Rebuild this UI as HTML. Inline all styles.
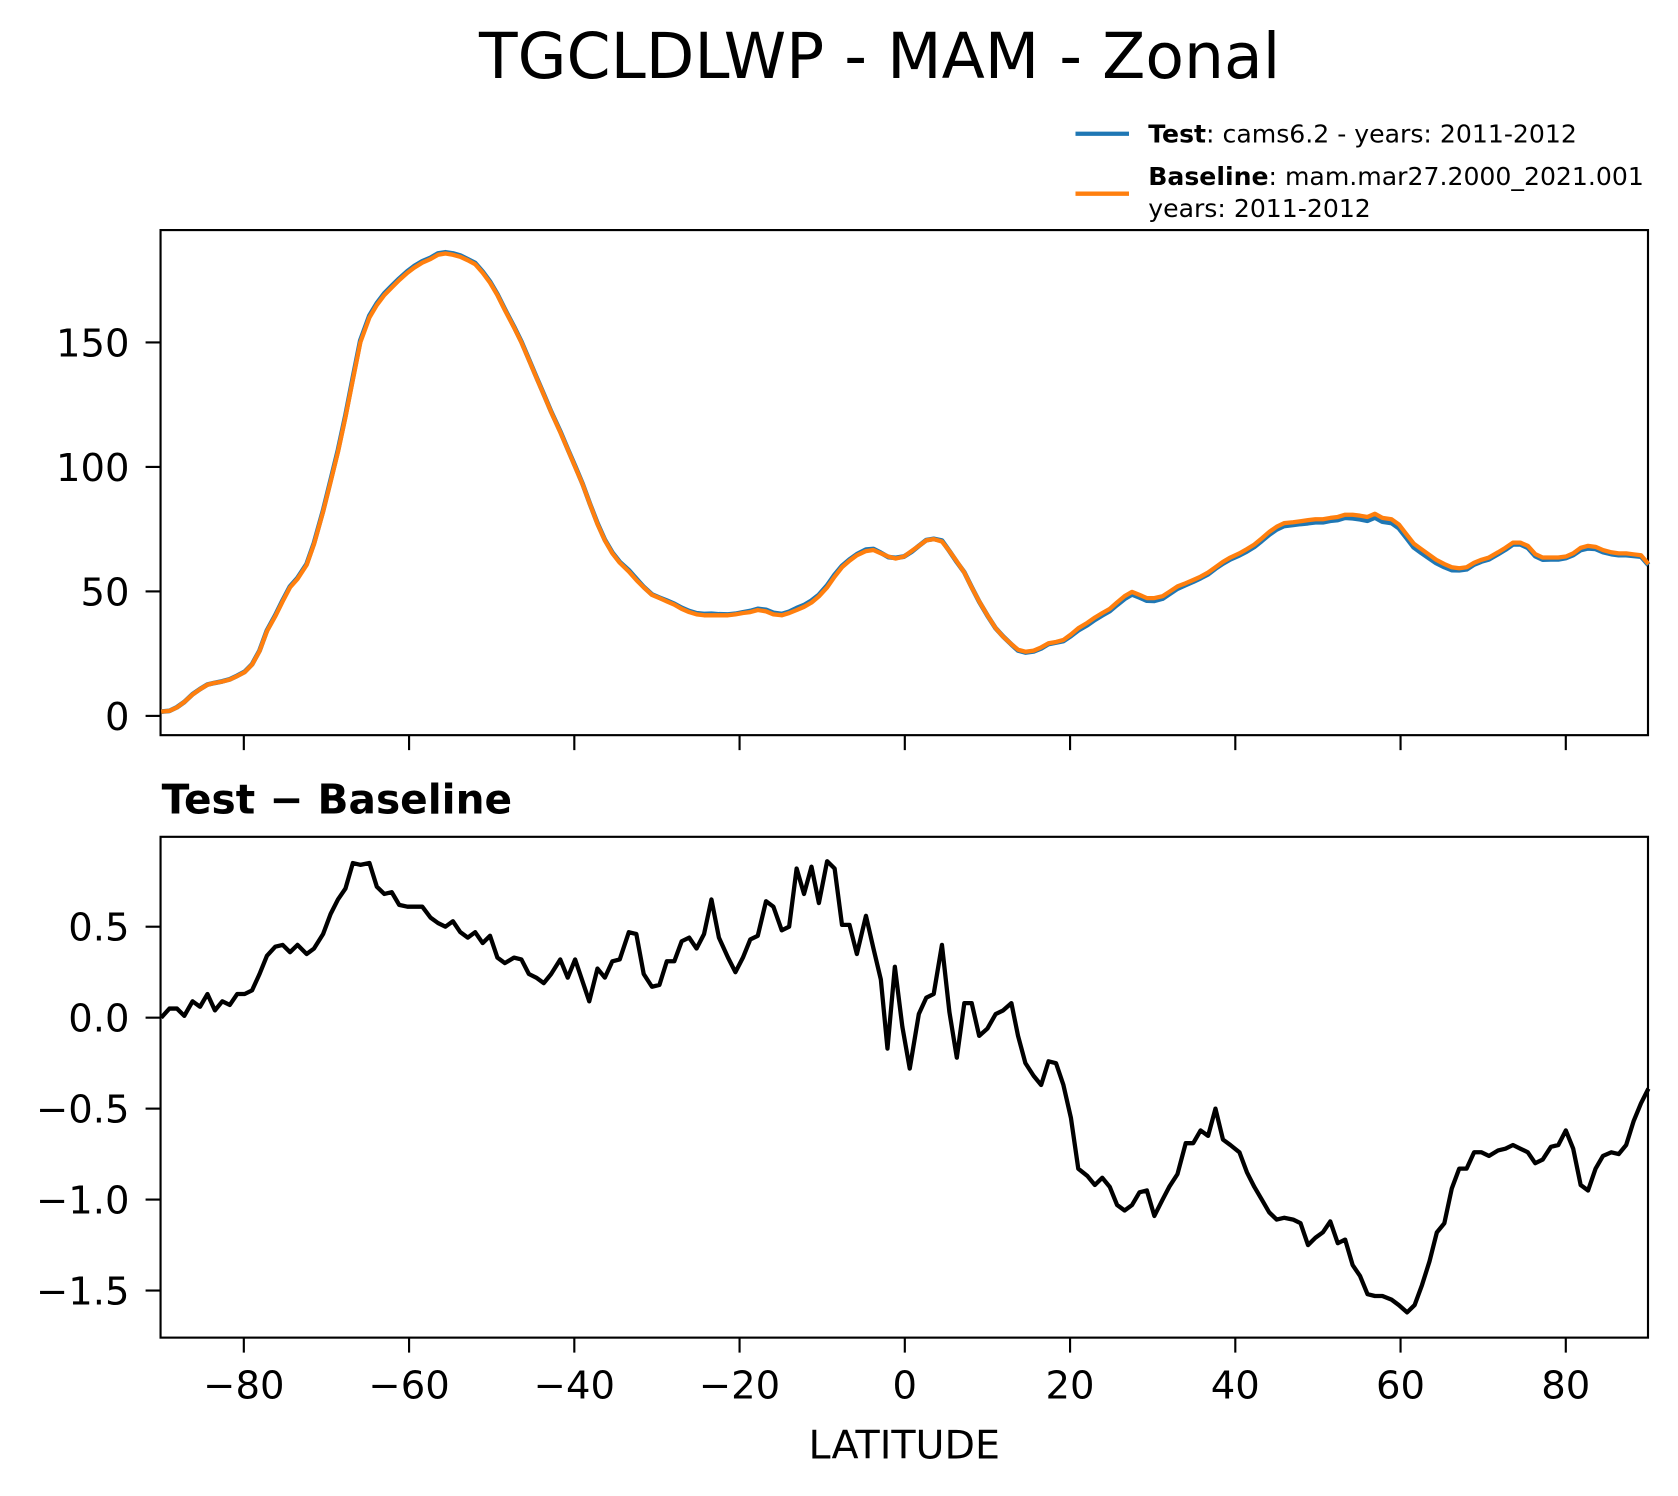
<!DOCTYPE html>
<html><head><meta charset="utf-8"><style>
html,body{margin:0;padding:0;background:#fff}
svg{display:block}
text{font-family:"DejaVu Sans","Liberation Sans",sans-serif;fill:#000}
</style></head><body>
<svg id="chart" width="1678" height="1496" viewBox="0 0 1568 1398" xmlns="http://www.w3.org/2000/svg">
<text x="822" y="73" font-size="59" text-anchor="middle">TGCLDLWP - MAM - Zonal</text>
<g>
<line x1="1005" y1="125" x2="1055" y2="125" stroke="#1f77b4" stroke-width="4"/>
<text x="1073" y="133" font-size="23.5"><tspan font-weight="bold">Test</tspan>: cams6.2 - years: 2011-2012</text>
<line x1="1005" y1="181" x2="1055" y2="181" stroke="#ff7f0e" stroke-width="4"/>
<text x="1073" y="173" font-size="23.5"><tspan font-weight="bold">Baseline</tspan>: mam.mar27.2000_2021.001</text>
<text x="1073" y="203" font-size="23.5">years: 2011-2012</text>
</g>
<g id="top"></g>
<text x="151" y="760" font-size="38" font-weight="bold">Test − Baseline</text>
<g id="bot"></g>
<text x="845" y="1363" font-size="37" text-anchor="middle">LATITUDE</text>
</svg>
<script>
const latTop=[-90,-89,-88.1,-87.2,-86.2,-85.3,-84.4,-83.5,-82.6,-81.7,-80.8,-79.9,-79,-78.1,-77.2,-76.2,-75.3,-74.4,-73.5,-72.4,-71.5,-70.4,-69.5,-68.6,-67.7,-66.8,-65.9,-64.8,-63.9,-63,-62.1,-61.2,-60.2,-59.4,-58.4,-57.4,-56.5,-55.6,-54.7,-53.8,-52.9,-52,-51.1,-50.2,-49.3,-48.4,-47.3,-46.4,-45.5,-44.6,-43.7,-42.8,-41.7,-40.8,-39.9,-39,-38.1,-37.2,-36.3,-35.4,-34.5,-33.4,-32.5,-31.6,-30.6,-29.7,-28.8,-27.9,-27,-26.1,-25.2,-24.3,-23.4,-22.5,-21.4,-20.5,-19.6,-18.7,-17.8,-16.8,-15.9,-14.9,-14,-13.1,-12.2,-11.3,-10.4,-9.4,-8.5,-7.6,-6.7,-5.8,-4.7,-3.8,-2.9,-2,-1.1,-0.1,0.8,1.7,2.6,3.5,4.5,5.4,6.3,7.2,8.1,9,10,11,11.9,12.9,13.7,14.6,15.6,16.5,17.4,18.3,19.2,20.1,21,22.1,23,23.9,24.8,25.7,26.6,27.5,28.4,29.3,30.2,31.2,32,33,34,34.9,35.8,36.7,37.6,38.5,39.4,40.5,41.4,42.3,43.2,44.1,45,45.9,47,47.9,48.8,49.7,50.6,51.5,52.4,53.3,54.2,55.1,56,56.9,57.8,58.9,59.8,60.7,61.6,62.5,63.4,64.3,65.3,66.2,67.1,68,68.9,69.8,70.7,71.8,72.7,73.6,74.5,75.4,76.3,77.2,78.2,79.1,80,80.9,81.8,82.7,83.6,84.5,85.5,86.4,87.3,88.2,89.1,90];
const baseline=[1.7,2,3.4,5.6,8.6,10.7,12.5,13.3,13.8,14.6,16,17.6,20.6,26,34,40,46,51.6,55,60.6,69,82,94,106,120,135,150,160,165,169,172,175,178,180,182,183.5,185.2,185.7,185.2,184.4,183,181.4,178,174,169,163,156,150,143,136,129,122,114,107,100,93,85,77,70.5,65.3,61.5,58,54.6,51.6,48.6,47.3,46,44.7,43,41.7,40.8,40.4,40.4,40.4,40.4,40.8,41.3,41.7,42.5,42,40.8,40.4,41.3,42.5,43.8,45.5,48,51.6,55.9,59.7,62.3,64.5,66.2,66.6,65.3,64,63.2,64,66.2,68.3,70.5,71,70,66.2,62,57.6,51.6,46,40.4,35.2,31.8,28.8,26.6,25.8,26.2,27.5,29.2,29.7,30.5,32.7,35.2,37.4,39.5,41.3,43,45.6,48.1,49.8,48.6,47.3,47.3,48.1,49.8,52,53.3,54.6,55.9,57.6,59.7,61.9,63.6,65.3,67,68.8,71.3,73.9,76,77.4,77.8,78.2,78.6,79,79,79.5,79.9,80.8,80.8,80.4,79.9,81.2,79.5,79,76.9,73,69.2,67,64.9,62.7,61,59.7,59.3,59.7,61.5,62.7,63.6,65.7,67.5,69.6,69.6,68.3,65,63.6,63.6,63.6,64,65.3,67.5,68.3,67.9,66.6,65.7,65.3,65.3,64.9,64.5,61];
const test=[1.7,2,3.5,5.6,8.7,10.8,12.6,13.3,13.9,14.7,16.1,17.7,20.7,26.2,34.3,40.4,46.4,52,55.4,61,69.4,82.5,94.6,106.7,120.7,135.8,150.8,160.8,165.7,169.7,172.7,175.6,178.6,180.6,182.6,184,185.7,186.2,185.7,184.9,183.4,181.9,178.4,174.4,169.3,163.3,156.3,150.3,143.2,136.2,129.2,122.2,114.3,107.2,100.3,93.2,85.1,77.3,70.7,65.6,61.8,58.5,55.1,51.8,48.8,47.5,46.3,45,43.4,42.1,41.2,40.9,41,40.8,40.7,41,41.6,42.1,43,42.6,41.4,40.9,41.8,43.3,44.5,46.3,48.6,52.4,56.7,60.2,62.8,64.9,66.8,67,65.5,63.8,63.5,64,65.9,68.3,70.6,71.1,70.4,66.2,61.8,57.7,51.7,45.9,40.3,35.2,31.9,28.7,26.3,25.5,25.9,27.1,28.9,29.5,30.1,32.1,34.4,36.5,38.6,40.4,42.1,44.6,47,48.8,47.6,46.3,46.2,47.1,48.9,51.1,52.6,53.9,55.3,56.9,59.2,61.2,62.9,64.5,66.1,67.9,70.3,72.8,74.9,76.3,76.7,77.1,77.4,77.8,77.8,78.4,78.7,79.6,79.4,79,78.4,79.7,78,77.5,75.4,71.5,67.7,65.5,63.5,61.4,59.8,58.6,58.5,58.9,60.8,62,62.9,65,66.8,68.9,68.9,67.5,64.2,62.8,62.9,62.9,63.4,64.6,66.6,67.3,67.1,65.8,65,64.6,64.6,64.3,64,60.6];
const latDiff=[-90,-89,-88.1,-87.2,-86.2,-85.3,-84.4,-83.5,-82.6,-81.7,-80.8,-79.9,-79,-78.1,-77.2,-76.2,-75.3,-74.4,-73.5,-72.4,-71.5,-70.4,-69.5,-68.6,-67.7,-66.8,-65.9,-64.8,-63.9,-63,-62.1,-61.2,-60.2,-59.4,-58.4,-57.4,-56.5,-55.6,-54.7,-53.8,-52.9,-52,-51.1,-50.2,-49.3,-48.4,-47.3,-46.4,-45.5,-44.6,-43.7,-42.8,-41.7,-40.8,-39.9,-38.2,-37.2,-36.3,-35.4,-34.5,-33.4,-32.5,-31.6,-30.6,-29.7,-28.8,-27.9,-27,-26.1,-25.2,-24.3,-23.4,-22.5,-21.4,-20.5,-19.6,-18.7,-17.8,-16.8,-15.9,-14.9,-14,-13.1,-12.2,-11.3,-10.4,-9.4,-8.5,-7.6,-6.7,-5.8,-4.7,-3.8,-2.9,-2.1,-1.2,-0.3,0.6,1.7,2.6,3.5,4.5,5.4,6.3,7.2,8.1,9,10,11,11.9,12.9,13.7,14.6,15.6,16.5,17.4,18.3,19.2,20.1,21,22.1,23,23.9,24.8,25.7,26.6,27.5,28.4,29.3,30.2,31.2,32,33,34,34.9,35.8,36.7,37.6,38.5,39.4,40.5,41.4,42.3,43.2,44.1,45,45.9,47,47.9,48.8,49.7,50.6,51.5,52.4,53.3,54.2,55.1,56,56.9,57.8,58.9,59.8,60.8,61.7,62.6,63.5,64.4,65.3,66.2,67.1,68,68.9,69.8,70.7,71.8,72.7,73.6,74.5,75.4,76.3,77.2,78.2,79.1,80,80.9,81.8,82.7,83.6,84.5,85.5,86.4,87.3,88.2,89.1,90];
const diff=[0,0.05,0.05,0.01,0.09,0.06,0.13,0.04,0.09,0.07,0.13,0.13,0.15,0.24,0.34,0.39,0.40,0.36,0.40,0.35,0.38,0.46,0.57,0.65,0.71,0.85,0.84,0.85,0.72,0.68,0.69,0.62,0.61,0.61,0.61,0.55,0.52,0.50,0.53,0.47,0.44,0.47,0.41,0.45,0.33,0.30,0.33,0.32,0.24,0.22,0.19,0.24,0.32,0.22,0.32,0.09,0.27,0.22,0.31,0.32,0.47,0.46,0.24,0.17,0.18,0.31,0.31,0.42,0.44,0.38,0.46,0.65,0.44,0.33,0.25,0.33,0.43,0.45,0.64,0.61,0.48,0.50,0.82,0.68,0.83,0.63,0.86,0.82,0.51,0.51,0.35,0.56,0.38,0.21,-0.17,0.28,-0.05,-0.28,0.02,0.11,0.13,0.40,0.03,-0.22,0.08,0.08,-0.1,-0.06,0.02,0.04,0.08,-0.1,-0.25,-0.32,-0.37,-0.24,-0.25,-0.37,-0.55,-0.83,-0.87,-0.92,-0.88,-0.93,-1.03,-1.06,-1.03,-0.96,-0.95,-1.09,-1.0,-0.93,-0.86,-0.69,-0.69,-0.62,-0.65,-0.50,-0.67,-0.70,-0.74,-0.85,-0.93,-1.0,-1.07,-1.11,-1.10,-1.11,-1.13,-1.25,-1.21,-1.18,-1.12,-1.24,-1.22,-1.36,-1.42,-1.52,-1.53,-1.53,-1.55,-1.58,-1.62,-1.58,-1.47,-1.34,-1.18,-1.13,-0.94,-0.83,-0.83,-0.74,-0.74,-0.76,-0.73,-0.72,-0.70,-0.72,-0.74,-0.80,-0.78,-0.71,-0.70,-0.62,-0.72,-0.92,-0.95,-0.83,-0.76,-0.74,-0.75,-0.70,-0.57,-0.47,-0.39];
const xTicks=[-80,-60,-40,-20,0,20,40,60,80];
const xTickLabels=["−80","−60","−40","−20","0","20","40","60","80"];
const topYTicks=[0,50,100,150];
const topYTickLabels=["0","50","100","150"];
const botYTicks=[0.5,0,-0.5,-1,-1.5];
const botYTickLabels=["0.5","0.0","−0.5","−1.0","−1.5"];

const NS="http://www.w3.org/2000/svg";
const X0=150.6,X1=1540.4;
function xs(v){return X0+(v+90)/180*(X1-X0);}
function yTop(v){return 669-v*(669-320)/150;}
function yBot(v){return 951-v*(951-866)/0.5;}
function mk(parent,tag,attrs){const e=document.createElementNS(NS,tag);for(const k in attrs)e.setAttribute(k,attrs[k]);parent.appendChild(e);return e;}
function panel(g,name,top,bottom,yf,yt,yl,showXLabels){
  const r=mk(g,'rect',{x:150,y:top,width:1390,height:bottom-top,fill:'none',stroke:'#000','stroke-width':2});
  
  
  xTicks.forEach((t,i)=>{
    const l=mk(g,'line',{x1:xs(t),x2:xs(t),y1:bottom,y2:bottom+14,stroke:'#000','stroke-width':2});
    
    
    if(showXLabels){
      const tx=mk(g,'text',{x:xs(t),y:bottom+57,'font-size':36,'text-anchor':'middle'});
      tx.textContent=xTickLabels[i];
      
      
    }
  });
  yt.forEach((t,i)=>{
    const y=yf(t);
    const l=mk(g,'line',{x1:136,x2:150,y1:y,y2:y,stroke:'#000','stroke-width':2});
    
    
    const tx=mk(g,'text',{x:121,y:y+13,'font-size':36,'text-anchor':'end'});
    tx.textContent=yl[i];
    
    
  });
}
function line(g,lats,vals,yf,color,w,name){
  const d=lats.map((la,i)=>(i?'L':'M')+xs(la).toFixed(1)+','+yf(vals[i]).toFixed(1)).join('');
  const p=mk(g,'path',{d:d,fill:'none',stroke:color,'stroke-width':w,'stroke-linejoin':'round'});
  
  
}
const gt=document.getElementById('top'),gb=document.getElementById('bot');
panel(gt,'top-panel',215,687,yTop,topYTicks,topYTickLabels,false);
line(gt,latTop,test,yTop,'#1f77b4',4.5,'test-line');
line(gt,latTop,baseline,yTop,'#ff7f0e',4,'baseline-line');
panel(gb,'bottom-panel',782,1250,yBot,botYTicks,botYTickLabels,true);
line(gb,latDiff,diff,yBot,'#000',4,'difference-line');
</script>
</body></html>
